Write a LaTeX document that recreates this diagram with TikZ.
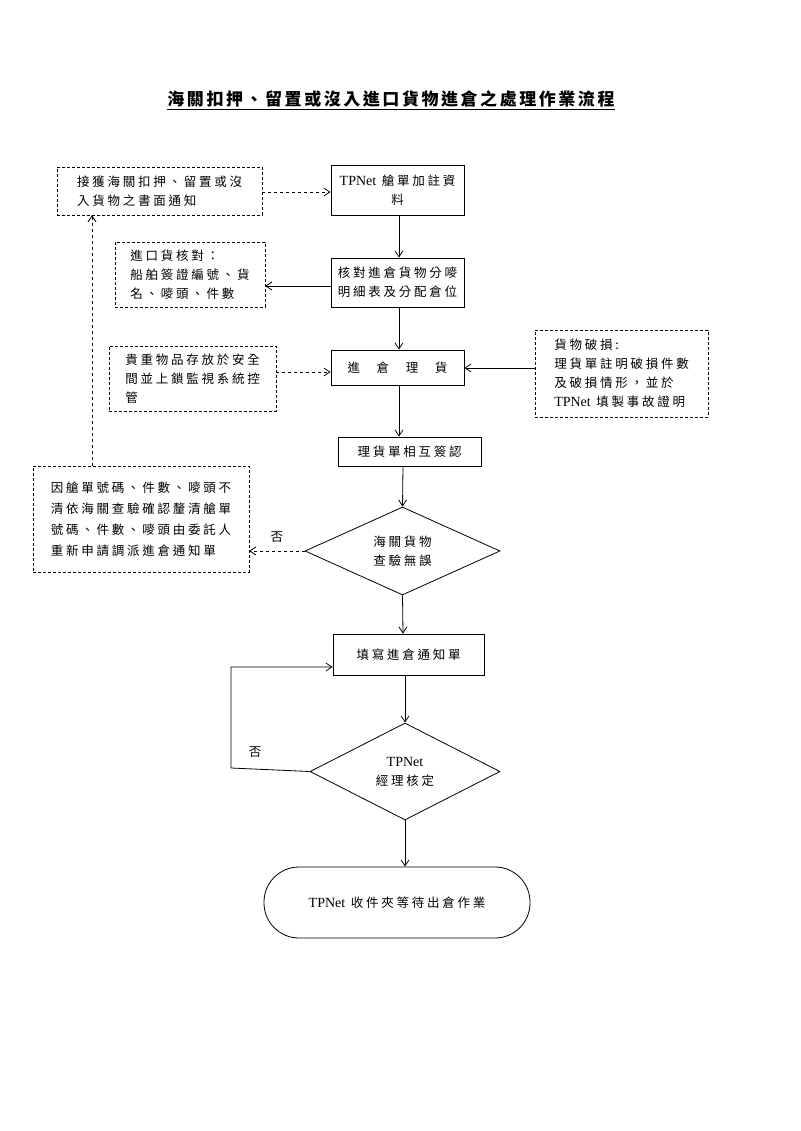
\documentclass[tikz,border=0pt]{standalone}
\usepackage{fontspec}
\setmainfont{Liberation Serif}
\newfontfamily\cjk[LetterSpace=22]{Noto Sans CJK TC}
\newfontfamily\cjkt[LetterSpace=15]{Noto Sans CJK TC}
\usetikzlibrary{shapes.geometric,arrows.meta}
\begin{document}
\begin{tikzpicture}[x=1pt,y=-1pt,
  every node/.style={font=\cjk\fontsize{12.5}{19}\selectfont, align=center, inner sep=2pt},
  box/.style={draw, thick, minimum height=0},
  dbox/.style={draw, densely dashed, thin},
  arr/.style={-{Straight Barb[length=6pt,width=8pt]}, thick},
  darr/.style={arr, dashed}]
\useasboundingbox (0,0) rectangle (800,1131);
\node[font=\cjkt\bfseries\fontsize{17}{20}\selectfont] (t) at (391,100) {\underline{海關扣押、留置或沒入進口貨物進倉之處理作業流程}};
\node[box,minimum width=133,minimum height=50] (B) at (397.5,190) {{\rm\fontsize{14}{19}\selectfont TPNet} 艙單加註資\\料};
\node[dbox,minimum width=205,minimum height=48,align=left] (A) at (159.5,191) {接獲海關扣押、留置或沒\\入貨物之書面通知};
\node[box,minimum width=133,minimum height=49] (C) at (397.5,282.5) {核對進倉貨物分嘜\\明細表及分配倉位};
\node[dbox,minimum width=150,minimum height=65,align=left] (D) at (190,274.5) {進口貨核對：\\船舶簽證編號、貨\\名、嘜頭、件數};
\node[box,minimum width=133,minimum height=35] (E) at (397.5,367.5) {進\ \ \ 倉\ \ \ 理\ \ \ 貨};
\node[dbox,minimum width=167,minimum height=65,align=left] (F) at (192.5,378.5) {貴重物品存放於安全\\間並上鎖監視系統控\\管};
\node[dbox,minimum width=173,minimum height=87,align=left] (G) at (621.5,373.5) {貨物破損:\\理貨單註明破損件數\\及破損情形，並於\\{\rm\fontsize{14}{19}\selectfont TPNet} 填製事故證明};
\node[box,minimum width=143,minimum height=29] (H) at (409.5,451.5) {理貨單相互簽認};
\node[dbox,minimum width=216,minimum height=106,align=left,font=\cjk\fontsize{12.5}{21}\selectfont] (I) at (141,519) {因艙單號碼、件數、嘜頭不\\清依海關查驗確認釐清艙單\\號碼、件數、嘜頭由委託人\\重新申請調派進倉通知單};
\node[draw,thick,diamond,aspect=2.2,minimum width=195,minimum height=88,inner sep=0] (J) at (402.5,551) {海關貨物\\查驗無誤};
\node[box,minimum width=151,minimum height=41] (K) at (408.5,654.5) {填寫進倉通知單};
\node[draw,thick,diamond,aspect=2,minimum width=190,minimum height=97,inner sep=0] (L) at (405,771.5) {{\rm\fontsize{14}{19}\selectfont TPNet}\\經理核定};
\node[draw,thick,rounded corners=35,minimum width=266,minimum height=71] (M) at (397,902.5) {{\rm\fontsize{14}{19}\selectfont TPNet} 收件夾等待出倉作業};
\coordinate (c1) at (231,768);
\coordinate (c2) at (231,667);
\draw[darr] (A.east |- 0,192) -- (B.west |- 0,192);
\draw[arr] (B.south -| 399,0) -- (C.north -| 399,0);
\draw[arr] (C.west |- 0,286) -- (D.east |- 0,286);
\draw[arr] (C.south -| 399,0) -- (E.north -| 399,0);
\draw[darr] (F.east |- 0,372) -- (E.west |- 0,372);
\draw[arr] (G.west |- 0,368) -- (E.east |- 0,368);
\draw[arr] (E.south -| 399,0) -- (H.north -| 399,0);
\draw[arr] (H.south -| 403,0) -- (J.north);
\draw[darr] (J.west) -- (I.east |- J.west) node[pos=0.5,above=6pt]{否};
\draw[darr] (I.north -| 92,0) -- (A.south -| 92,0);
\draw[arr] (J.south) -- (K.north -| 403,0);
\draw[arr] (K.south -| 405,0) -- (L.north);
\draw[arr] (L.west) -- (c1) -- (c2) -- (K.west |- c2);
\node at (255,752) {否};
\draw[arr] (L.south) -- (M.north -| L.south);
\end{tikzpicture}
\end{document}
